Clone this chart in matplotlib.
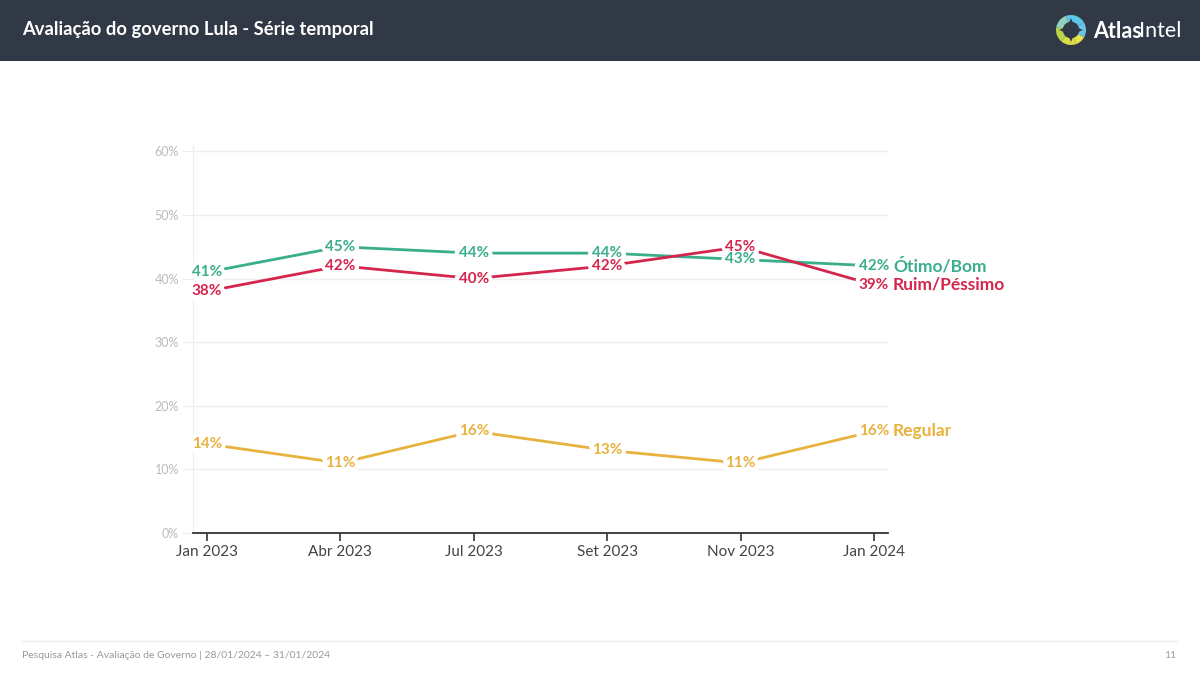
import matplotlib.pyplot as plt
import matplotlib.patheffects as pe
import numpy as np
from matplotlib.patches import Rectangle, Wedge, Circle, Polygon

months = ["Jan 2023", "Abr 2023", "Jul 2023", "Set 2023", "Nov 2023", "Jan 2024"]
otimo_bom = [41, 45, 44, 44, 43, 42]
ruim_pessimo = [38, 42, 40, 42, 45, 39]
regular = [14, 11, 16, 13, 11, 16]

series = [
    ("Ótimo/Bom", otimo_bom, "#3aae8c"),
    ("Ruim/Péssimo", ruim_pessimo, "#d4264c"),
    ("Regular", regular, "#e8b23e"),
]

plt.rcParams["font.family"] = ["Lato", "DejaVu Sans"]

fig = plt.figure(figsize=(12, 6.74), dpi=100)

# header bar
fig.patches.append(Rectangle((0, 1 - 61 / 674), 1, 61 / 674, transform=fig.transFigure,
                             facecolor="#323946", edgecolor="none", zorder=-5))
fig.text(22 / 1200, 1 - 30 / 674, "Avaliação do governo Lula - Série temporal",
         color="white", fontsize=13.2, fontweight="bold", va="center", ha="left")

# logo
lax = fig.add_axes([1056 / 1200, 1 - 45 / 674, 30 / 1200, 30 / 674], zorder=5)
lax.set_xlim(-1, 1)
lax.set_ylim(-1, 1)
lax.set_aspect("equal")
lax.axis("off")
ring = [(-30, 30, "#6cc4e4"), (30, 110, "#5cc6e8"), (110, 170, "#8fd0c0"),
        (170, 230, "#b9d64a"), (230, 290, "#d8de45"), (290, 330, "#e9e24c")]
for a0, a1, c in ring:
    lax.add_patch(Wedge((0, 0), 1, a0, a1, facecolor=c, edgecolor="none"))
lax.add_patch(Circle((0, 0), 0.55, facecolor="#323946", edgecolor="none"))
t = np.linspace(0, 2 * np.pi, 200)
lax.add_patch(Polygon(np.column_stack([0.85 * np.cos(t) ** 3, 0.85 * np.sin(t) ** 3]),
                      closed=True, facecolor="#323946", edgecolor="none"))
fig.text(1093 / 1200, 1 - 31 / 674, "Atlas", color="white", fontsize=15.5,
         fontweight="bold", va="center", ha="left")
fig.text(1139 / 1200, 1 - 31 / 674, "Intel", color="white", fontsize=15.5,
         va="center", ha="left")

# chart
ax = fig.add_axes([193 / 1200, 1 - 533 / 674, 695 / 1200, 388 / 674])
x = np.arange(len(months))
ax.set_xlim(-0.105, 5.105)
ax.set_ylim(0, 61)

halo = [pe.withStroke(linewidth=6, foreground="white")]
for name, vals, color in series:
    ax.plot(x, vals, color=color, lw=2, zorder=2, solid_capstyle="round")
# white knock-out behind every label first, then the coloured labels on top
for name, vals, color in series:
    for xi, v in zip(x, vals):
        ax.text(xi, v, f"{v}%", color="white", fontsize=11, fontweight="bold",
                ha="center", va="center", zorder=3, path_effects=halo)
for name, vals, color in series:
    for xi, v in zip(x, vals):
        ax.text(xi, v, f"{v}%", color=color, fontsize=11, fontweight="bold",
                ha="center", va="center", zorder=4)
    ax.annotate(name, (x[-1], vals[-1]), xytext=(19, 0), textcoords="offset pixels",
                color=color, fontsize=12.5, fontweight="bold", ha="left", va="center",
                annotation_clip=False)

ax.set_yticks(np.arange(0, 61, 10))
ax.set_yticklabels([f"{t}%" for t in range(0, 61, 10)])
ax.set_xticks(x)
ax.set_xticklabels(months)
ax.grid(axis="y", color="#eeeeee", lw=1)
ax.set_axisbelow(True)
for side in ["top", "right"]:
    ax.spines[side].set_visible(False)
ax.spines["left"].set_color("#eeeeee")
ax.spines["bottom"].set_color("#333333")
ax.spines["bottom"].set_linewidth(1.3)
ax.tick_params(axis="y", length=8, color="#eeeeee", labelcolor="#bbbbbb", labelsize=9, pad=2)
ax.tick_params(axis="x", length=6, width=1.2, color="#333333", labelcolor="#444444",
               labelsize=11, pad=3)

# footer
fig.add_artist(plt.Line2D([22 / 1200, 1177 / 1200], [1 - 641 / 674] * 2,
                          transform=fig.transFigure, color="#eeeeee", lw=1))
fig.text(22 / 1200, 1 - 656 / 674,
         "Pesquisa Atlas - Avaliação de Governo | 28/01/2024 – 31/01/2024",
         color="#999999", fontsize=7.5, va="center", ha="left")
fig.text(1176 / 1200, 1 - 656 / 674, "11", color="#999999", fontsize=7.5,
         va="center", ha="right")

fig.savefig("out.png", dpi=100)
